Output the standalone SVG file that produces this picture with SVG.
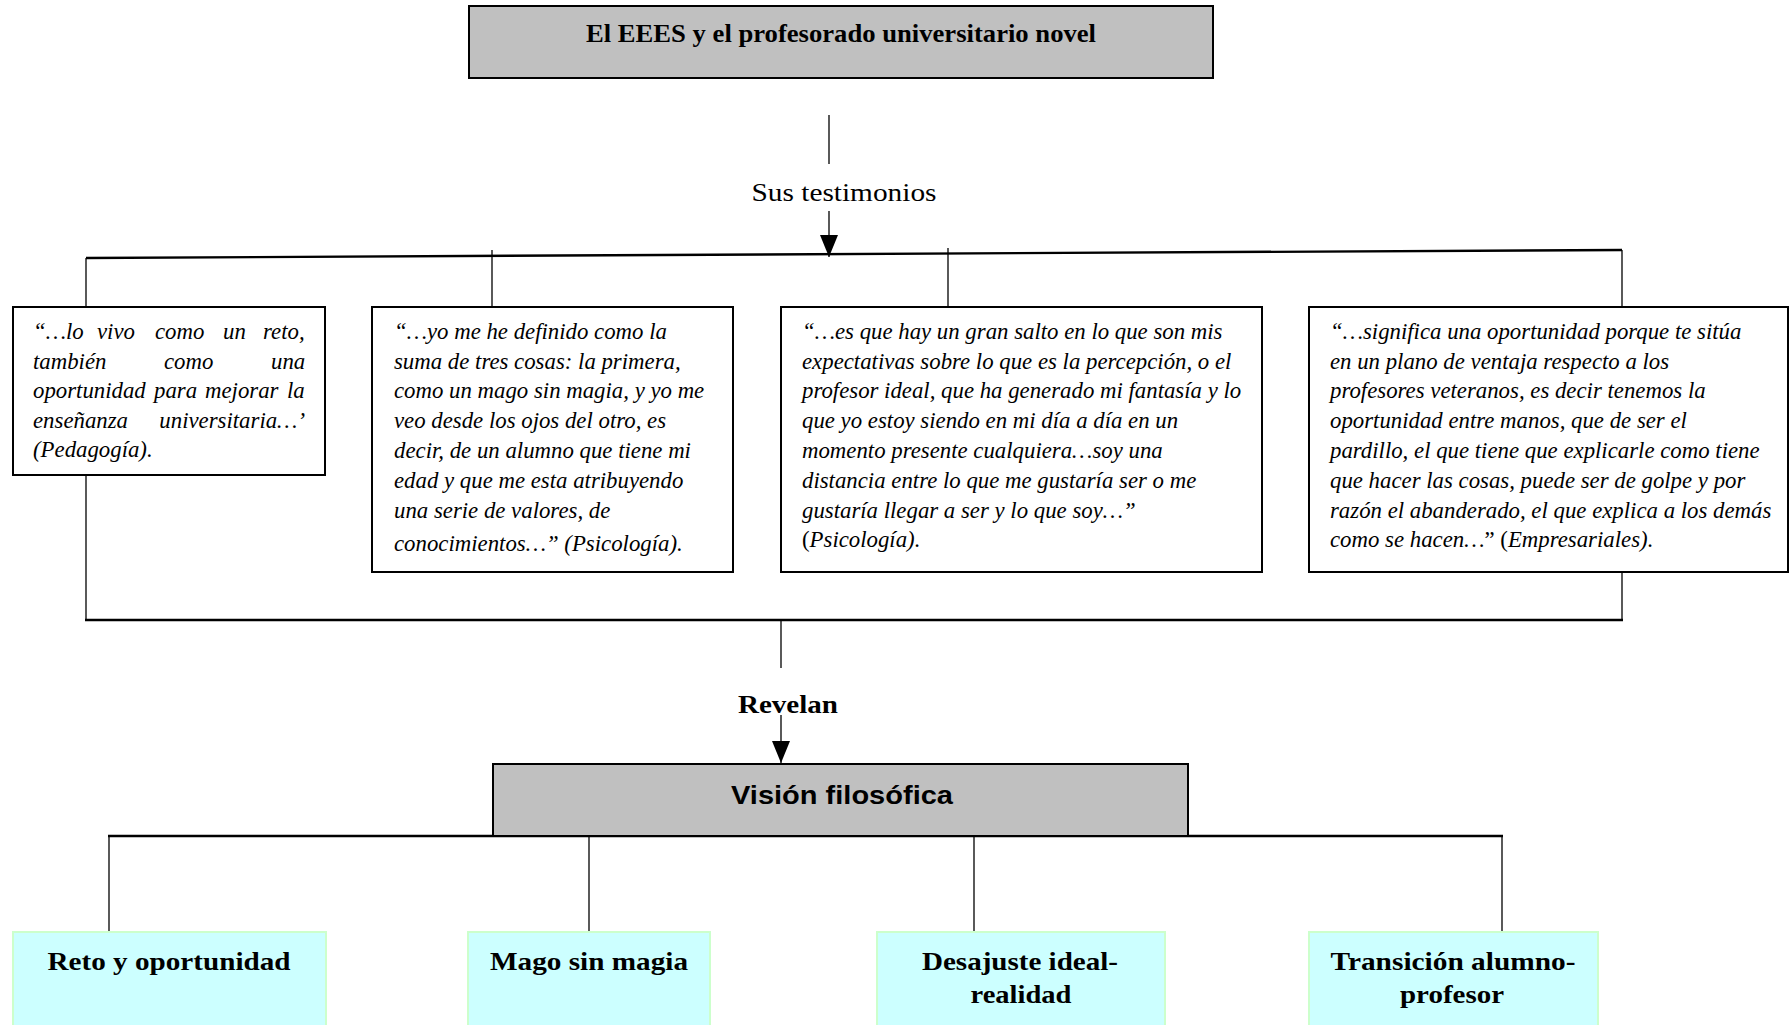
<svg xmlns="http://www.w3.org/2000/svg" width="1789" height="1025" viewBox="0 0 1789 1025">
<defs>
<style>
.grey{fill:#c0c0c0;stroke:#000;stroke-width:2}
.quote{fill:#fff;stroke:#000;stroke-width:2}
.leaf{fill:#ccffff;stroke:#ccffcc;stroke-width:2}
.ln{stroke:#000;stroke-width:1.3;fill:none}
.thick{stroke:#000;stroke-width:2.4;fill:none}
.q{font-family:"Liberation Serif",serif;font-style:italic;font-size:22.8px;fill:#000}
.up{font-style:normal}
.lbl{font-family:"Liberation Serif",serif;font-weight:bold;font-size:26px;fill:#000;text-anchor:middle}
</style>
<marker id="arr" markerUnits="userSpaceOnUse" markerWidth="24" markerHeight="20" refX="22" refY="9" orient="auto">
<path d="M0,0 L22,9 L0,18 Z" fill="#000"/>
</marker>
</defs>

<g id="connectors">
<line class="ln" x1="829" y1="115" x2="829" y2="164"/>
<line class="ln" x1="829" y1="211" x2="829" y2="257" marker-end="url(#arr)"/>
<line class="thick" x1="86" y1="258" x2="1622" y2="250"/>
<line class="ln" x1="86" y1="258" x2="86" y2="307"/>
<line class="ln" x1="492" y1="250" x2="492" y2="307"/>
<line class="ln" x1="948" y1="248" x2="948" y2="307"/>
<line class="ln" x1="1622" y1="250" x2="1622" y2="307"/>
<line class="ln" x1="86" y1="475" x2="86" y2="620"/>
<line class="ln" x1="1622" y1="572" x2="1622" y2="620"/>
<line class="thick" x1="85" y1="620" x2="1623" y2="620"/>
<line class="ln" x1="781" y1="620" x2="781" y2="668"/>
<line class="ln" x1="781" y1="715" x2="781" y2="763" marker-end="url(#arr)"/>
<line class="thick" x1="108" y1="836" x2="1503" y2="836"/>
<line class="ln" x1="109" y1="836" x2="109" y2="931"/>
<line class="ln" x1="589" y1="836" x2="589" y2="931"/>
<line class="ln" x1="974" y1="836" x2="974" y2="931"/>
<line class="ln" x1="1502" y1="836" x2="1502" y2="931"/>
</g>

<g id="title">
<rect class="grey" x="469" y="6" width="744" height="72"/>
<text x="841" y="42" class="lbl" font-size="25" textLength="510" lengthAdjust="spacingAndGlyphs">El EEES y el profesorado universitario novel</text>
</g>

<g id="label-testimonios">
<text x="844" y="201" font-family="Liberation Serif, serif" font-size="25" text-anchor="middle" textLength="185" lengthAdjust="spacingAndGlyphs">Sus testimonios</text>
</g>

<g id="quote1">
<rect class="quote" x="13" y="307" width="312" height="168"/>
<text class="q" y="339"><tspan x="33">“…lo</tspan><tspan x="97">vivo</tspan><tspan x="155">como</tspan><tspan x="223">un</tspan><tspan x="263">reto,</tspan></text>
<text class="q" y="369"><tspan x="33">también</tspan><tspan x="164">como</tspan><tspan x="271">una</tspan></text>
<text class="q" y="398"><tspan x="33">oportunidad</tspan><tspan x="154">para</tspan><tspan x="205">mejorar</tspan><tspan x="287">la</tspan></text>
<text class="q" x="33" y="428">enseñanza</text>
<text class="q" x="305" y="428" text-anchor="end">universitaria…’</text>
<text class="q" x="33" y="457">(Pedagogía).</text>
</g>

<g id="quote2">
<rect class="quote" x="372" y="307" width="361" height="265"/>
<text class="q" x="394" y="339">“…yo me he definido como la</text>
<text class="q" x="394" y="369">suma de tres cosas: la primera,</text>
<text class="q" x="394" y="398">como un mago sin magia, y yo me</text>
<text class="q" x="394" y="428">veo desde los ojos del otro, es</text>
<text class="q" x="394" y="458">decir, de un alumno que tiene mi</text>
<text class="q" x="394" y="488">edad y que me esta atribuyendo</text>
<text class="q" x="394" y="518">una serie de valores, de</text>
<text class="q" x="394" y="551">conocimientos…”  (Psicología).</text>
</g>

<g id="quote3">
<rect class="quote" x="781" y="307" width="481" height="265"/>
<text class="q" x="802" y="339">“…es que hay un gran salto en lo que son mis</text>
<text class="q" x="802" y="369">expectativas sobre lo que es la percepción, o el</text>
<text class="q" x="802" y="398">profesor ideal, que ha generado mi fantasía y lo</text>
<text class="q" x="802" y="428">que yo estoy siendo en mi día a día en un</text>
<text class="q" x="802" y="458">momento presente cualquiera…soy una</text>
<text class="q" x="802" y="488">distancia entre lo que me gustaría ser o me</text>
<text class="q" x="802" y="518">gustaría llegar a ser y lo que soy…”</text>
<text class="q" x="802" y="547"><tspan class="up">(</tspan>Psicología).</text>
</g>

<g id="quote4">
<rect class="quote" x="1309" y="307" width="479" height="265"/>
<text class="q" x="1330" y="339">“…significa una oportunidad porque te sitúa</text>
<text class="q" x="1330" y="369">en un plano de ventaja respecto a los</text>
<text class="q" x="1330" y="398">profesores veteranos, es decir tenemos la</text>
<text class="q" x="1330" y="428">oportunidad entre manos, que de ser el</text>
<text class="q" x="1330" y="458">pardillo, el que tiene que explicarle como tiene</text>
<text class="q" x="1330" y="488">que hacer las cosas, puede ser de golpe y por</text>
<text class="q" x="1330" y="518">razón el abanderado, el que explica a los demás</text>
<text class="q" x="1330" y="547">como se hacen…<tspan class="up">” (</tspan>Empresariales).</text>
</g>

<g id="label-revelan">
<text x="788" y="713" class="lbl" textLength="100" lengthAdjust="spacingAndGlyphs">Revelan</text>
</g>

<g id="vision">
<rect class="grey" x="493" y="764" width="695" height="72"/>
<text x="842" y="804" font-family="Liberation Sans, Arial, sans-serif" font-weight="bold" font-size="26.5" text-anchor="middle" textLength="222" lengthAdjust="spacingAndGlyphs">Visión filosófica</text>
</g>

<g id="leaf1">
<rect class="leaf" x="13" y="932" width="313" height="100"/>
<text x="169" y="970" class="lbl" textLength="243" lengthAdjust="spacingAndGlyphs">Reto y oportunidad</text>
</g>
<g id="leaf2">
<rect class="leaf" x="468" y="932" width="242" height="100"/>
<text x="589" y="970" class="lbl" textLength="198" lengthAdjust="spacingAndGlyphs">Mago sin magia</text>
</g>
<g id="leaf3">
<rect class="leaf" x="877" y="932" width="288" height="100"/>
<text x="1020" y="970" class="lbl" textLength="196" lengthAdjust="spacingAndGlyphs">Desajuste ideal-</text>
<text x="1021" y="1003" class="lbl" textLength="101" lengthAdjust="spacingAndGlyphs">realidad</text>
</g>
<g id="leaf4">
<rect class="leaf" x="1309" y="932" width="289" height="100"/>
<text x="1453" y="970" class="lbl" textLength="245" lengthAdjust="spacingAndGlyphs">Transición alumno-</text>
<text x="1452" y="1003" class="lbl" textLength="104" lengthAdjust="spacingAndGlyphs">profesor</text>
</g>
</svg>
